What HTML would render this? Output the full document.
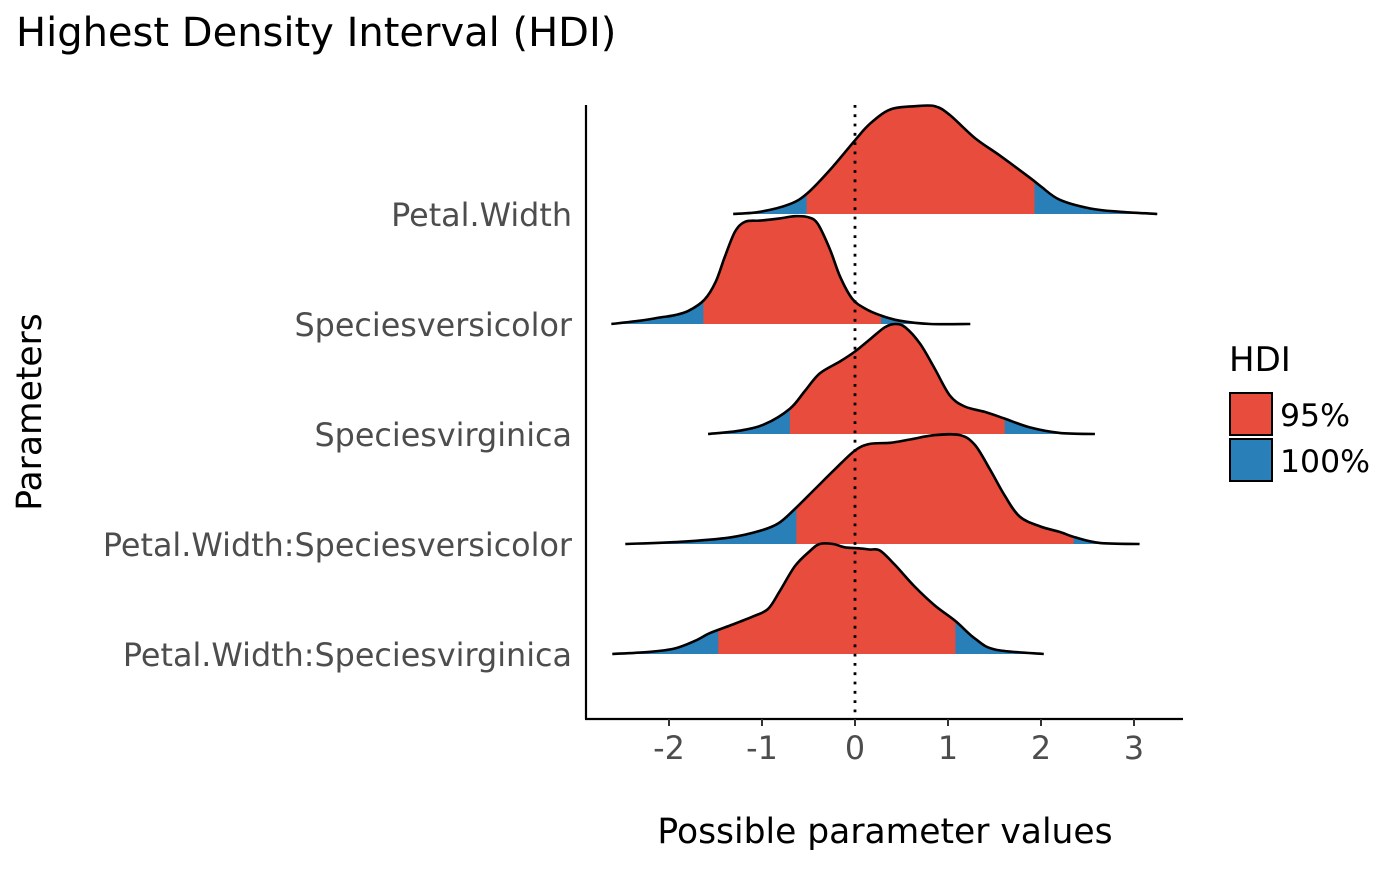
<!DOCTYPE html>
<html><head><meta charset="utf-8"><style>
body{margin:0;background:#fff}
svg text{font-family:"DejaVu Sans","Liberation Sans",sans-serif}
</style></head><body>
<svg id="chart" width="1400" height="866" viewBox="0 0 1400 866">
<text x="16" y="46" font-size="40" fill="#000">Highest Density Interval (HDI)</text>
<g id="plot"></g>
<line x1="586" y1="105" x2="586" y2="719" stroke="#000" stroke-width="2.2"/>
<line x1="585" y1="719" x2="1183" y2="719" stroke="#000" stroke-width="2.2"/>
<g id="xticks"></g>
<g id="ylabels"></g>
<text x="885" y="843" font-size="34.5" text-anchor="middle" fill="#000">Possible parameter values</text>
<text transform="translate(41,412) rotate(-90)" font-size="34.5" text-anchor="middle" fill="#000">Parameters</text>
<g>
<text x="1229" y="371" font-size="34" fill="#000">HDI</text>
<rect x="1230" y="393" width="42" height="42" fill="#E74C3C" stroke="#000" stroke-width="2"/>
<text x="1280" y="426" font-size="31.5" fill="#000">95%</text>
<rect x="1230" y="439" width="42" height="42" fill="#2980B9" stroke="#000" stroke-width="2"/>
<text x="1280" y="472" font-size="31.5" fill="#000">100%</text>
</g>
</svg>
<script>
const categories=["Petal.Width","Speciesversicolor","Speciesvirginica","Petal.Width:Speciesversicolor","Petal.Width:Speciesvirginica"];
const xTicks=[-2,-1,0,1,2,3];
const hdiLow=[-0.52,-1.63,-0.70,-0.63,-1.47];
const hdiHigh=[1.93,0.28,1.61,2.35,1.08];
const xs0=[-1.31,-1.02,-0.70,-0.51,-0.27,0,0.16,0.38,0.65,0.86,1.02,1.29,1.56,1.88,2.0,2.2,2.53,2.85,3.25];
const ds0=[0,.02,.09,.19,.40,.67,.82,.95,.98,.98,.90,.69,.53,.33,.25,.13,.05,.02,0];
const xs1=[-2.62,-2.31,-2.09,-1.94,-1.79,-1.62,-1.5,-1.4,-1.29,-1.18,-1.02,-0.81,-0.645,-0.5,-0.40,-0.27,-0.16,-0.03,0.11,0.27,0.48,0.81,1.24];
const ds1=[0,.03,.06,.08,.12,.22,.38,.61,.84,.93,.94,.96,.98,.97,.91,.68,.43,.23,.14,.08,.03,0,0];
const xs2=[-1.58,-1.24,-0.97,-0.70,-0.54,-0.38,-0.16,0,0.16,0.32,0.43,0.54,0.70,0.86,1.02,1.18,1.4,1.61,1.88,2.2,2.58];
const ds2=[0,.03,.09,.23,.39,.55,.66,.75,.86,.97,1.0,.97,.82,.59,.35,.25,.20,.14,.06,.01,0];
const xs3=[-2.47,-1.88,-1.34,-1.02,-0.82,-0.645,-0.43,-0.215,0,0.16,0.38,0.59,0.86,1.13,1.29,1.45,1.61,1.77,1.99,2.2,2.37,2.63,3.06];
const ds3=[0,.02,.06,.12,.19,.32,.50,.68,.85,.91,.92,.95,.99,.99,.90,.68,.44,.25,.16,.11,.06,0.01,0];
const xs4=[-2.61,-2.2,-1.94,-1.72,-1.56,-1.34,-1.10,-0.935,-0.81,-0.645,-0.48,-0.38,-0.235,-0.11,0.05,0.16,0.27,0.43,0.645,0.86,1.08,1.29,1.51,2.03];
const ds4=[0,.02,.05,.12,.19,.26,.34,.41,.57,.80,.94,1.0,1.0,.97,.96,.95,.94,.81,.61,.44,.30,.14,.04,0];
const seriesX=[xs0,xs1,xs2,xs3,xs4];
const seriesD=[ds0,ds1,ds2,ds3,ds4];

const NS="http://www.w3.org/2000/svg";
const xScale=v=>855+93*v;
const yBase=i=>214+110*i;
const hScale=d=>110*d;
function mk(t,a,p){const e=document.createElementNS(NS,t);for(const k in a)e.setAttribute(k,a[k]);p.appendChild(e);return e;}
function smooth(pts){let d=`M${pts[0][0]},${pts[0][1]}`;
 for(let i=0;i<pts.length-1;i++){const p0=pts[Math.max(0,i-1)],p1=pts[i],p2=pts[i+1],p3=pts[Math.min(pts.length-1,i+2)];
 const c1=[p1[0]+(p2[0]-p0[0])/6,p1[1]+(p2[1]-p0[1])/6],c2=[p2[0]-(p3[0]-p1[0])/6,p2[1]-(p3[1]-p1[1])/6];
 d+=`C${c1[0]},${c1[1]} ${c2[0]},${c2[1]} ${p2[0]},${p2[1]}`;}return d;}
const plot=document.getElementById('plot');
const defs=mk('defs',{},plot);
categories.forEach((c,i)=>{
 const b=yBase(i);
 const pts=seriesX[i].map((x,j)=>[xScale(x),b-hScale(seriesD[i][j])]);
 const line=smooth(pts);
 const area=line+`L${pts[pts.length-1][0]},${b}L${pts[0][0]},${b}Z`;
 const cp=mk('clipPath',{id:'cp'+i},defs);
 mk('rect',{x:xScale(hdiLow[i]),y:b-200,width:xScale(hdiHigh[i])-xScale(hdiLow[i]),height:200},cp);
 const g=mk('g',{},plot);
 
 
 const a1=mk('path',{d:area,fill:'#2980B9'},g);
 
 
 const a2=mk('path',{d:area,fill:'#E74C3C','clip-path':`url(#cp${i})`},g);
 
 
 const l=mk('path',{d:line,fill:'none',stroke:'#000','stroke-width':2.6},g);
 
 
 const yl=document.getElementById('ylabels');
 const t=mk('text',{x:572,y:b+12,'font-size':31.8,'text-anchor':'end',fill:'#4d4d4d'},yl);
 t.textContent=c;
 
 
});
const zl=mk('line',{x1:xScale(0),y1:105,x2:xScale(0),y2:719,stroke:'#000','stroke-width':2.8,'stroke-dasharray':'2.8 6.5'},plot);


const xt=document.getElementById('xticks');
xTicks.forEach(v=>{
 const tk=mk('line',{x1:xScale(v),y1:719,x2:xScale(v),y2:726,stroke:'#333','stroke-width':2},xt);
 
 
 const t=mk('text',{x:xScale(v),y:759,'font-size':31.8,'text-anchor':'middle',fill:'#4d4d4d'},xt);
 t.textContent=v;
 
 
});
</script>
</body></html>
